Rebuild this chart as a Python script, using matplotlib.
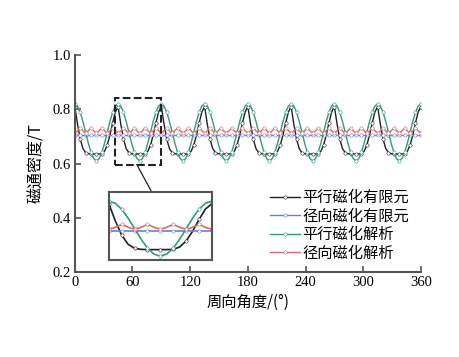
import matplotlib.pyplot as plt
import numpy as np
from matplotlib.lines import Line2D
from matplotlib.patches import Rectangle

plt.rcParams['font.family'] = ['Noto Sans CJK SC', 'DejaVu Sans']

# one 45 deg period (peak to peak), 16 steps
period = 45.0
fem_par = [0.810, 0.745, 0.690, 0.655, 0.640, 0.636, 0.635, 0.635, 0.635,
           0.635, 0.636, 0.645, 0.668, 0.705, 0.750, 0.790, 0.810]
ana_par = [0.820, 0.812, 0.789, 0.755, 0.715, 0.675, 0.641, 0.618, 0.610,
           0.618, 0.641, 0.675, 0.715, 0.755, 0.789, 0.812, 0.820]
fem_rad = [0.705] * 17
# radial analytic has small ripples, 24 steps per period
ana_rad = [0.714, 0.717, 0.724, 0.731, 0.724, 0.717] * 4 + [0.714]

labels = ['平行磁化有限元', '径向磁化有限元', '平行磁化解析', '径向磁化解析']
colors = ['#222222', '#6b7fd0', '#2f9e78', '#e06868']
xticks = [0, 60, 120, 180, 240, 300, 360]
yticks = [0.2, 0.4, 0.6, 0.8, 1.0]
n_per = 8


def full(profile):
    p = np.array(profile)
    return np.concatenate([np.tile(p[:-1], n_per), p[-1:]])


def angles(profile):
    n = len(profile) - 1
    return np.linspace(0, period * n_per, n * n_per + 1)


series = [fem_par, fem_rad, ana_par, ana_rad]

fig = plt.figure(figsize=(4.59, 3.57), dpi=100)
ax = fig.add_axes([0.163, 0.238, 0.754, 0.608])


def draw(a, lw=1.0):
    for s, c in zip(series, colors):
        me = 3 if len(s) > 17 else 2
        a.plot(angles(s), full(s), color=c, lw=lw, marker='o', ms=2.4,
               mfc='white', mec=c, mew=0.4, markevery=me)


draw(ax)
ax.set_xlim(0, 360)
ax.set_ylim(0.2, 1.0)
ax.set_xticks(xticks)
ax.set_yticks(yticks)
ax.set_yticklabels(['%.1f' % v for v in yticks])
for sp in ['top', 'right']:
    ax.spines[sp].set_visible(False)
for sp in ['left', 'bottom']:
    ax.spines[sp].set_color('#555555')
    ax.spines[sp].set_linewidth(1.5)
ax.tick_params(direction='in', length=4, width=1.2, color='#555555',
               labelsize=10.5, pad=3)
for t in ax.get_xticklabels() + ax.get_yticklabels():
    t.set_family('Liberation Serif')
ax.set_xlabel('周向角度/(°)', fontsize=11, labelpad=3)
ax.set_ylabel('磁通密度/T', fontsize=11.5, labelpad=5)

# zoom box and inset
ax.add_patch(Rectangle((42, 0.596), 48, 0.244, fill=False, ls='--',
                       lw=1.5, ec='#222222', zorder=5))
ax.plot([64.5, 80], [0.596, 0.495], color='#222222', lw=0.9, clip_on=False)
ins = ax.inset_axes([35.4, 0.244, 107.2, 0.251], transform=ax.transData)
draw(ins, lw=1.2)
ins.set_xlim(45, 90)
ins.set_ylim(0.595, 0.855)
ins.set_xticks([])
ins.set_yticks([])
for sp in ins.spines.values():
    sp.set_color('#555555')
    sp.set_linewidth(1.5)

handles = [Line2D([], [], color=c, lw=1.0, marker='o', ms=2.4, mfc='white',
                  mec=c, mew=0.4) for c in colors]
ax.legend(handles, labels, loc='upper left', bbox_to_anchor=(0.545, 0.41),
          frameon=False, fontsize=11, handlelength=2.0, handletextpad=0.15,
          labelspacing=0.1, numpoints=1, borderaxespad=0)

fig.savefig('out.png', dpi=100)
